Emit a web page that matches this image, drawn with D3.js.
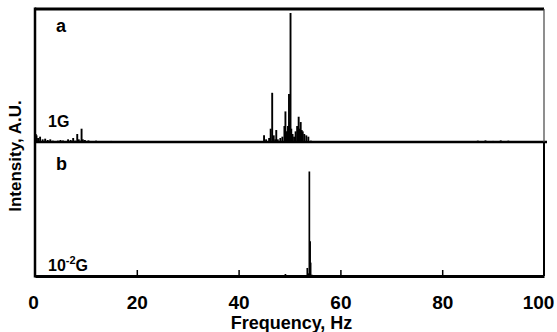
<!DOCTYPE html>
<meta charset="utf-8">
<script src="https://d3js.org/d3.v7.min.js"></script>
<style>
  body { margin: 0; background: #fff; }
  text { font-family: Arial, "Liberation Sans", sans-serif; font-weight: bold; fill: #000; }
</style>
<div id="my_dataviz"></div>
<script>

// spectrum of panel a (1G): frequency in Hz, intensity in A.U. (0..1)
var freqA = [0, 0.15, 0.3, 0.6, 1.0, 1.5, 2.0, 2.5, 3.0, 3.5, 4.5, 5.0, 5.5, 6.5, 7.0, 7.5, 7.9, 8.3, 8.6, 8.9, 9.15, 9.4, 9.8, 10.5, 12, 15, 20, 27, 35, 44.5,
             45.0, 45.4, 46.0, 46.3, 46.6, 46.9, 47.2, 47.4, 47.7, 48.2, 48.6, 49.0, 49.2, 49.5, 49.7, 49.9, 50.05, 50.2, 50.35, 50.6, 50.9, 51.2, 51.5, 51.8, 52.0, 52.2, 52.4, 52.6, 52.9, 53.3, 53.7, 54.2, 55,
             62, 75, 87, 88.5, 90, 91.5, 93, 95];
var valA  = [0.44, 0.06, 0.05, 0.03, 0.04, 0.02, 0.025, 0.015, 0.02, 0.01, 0.01, 0.015, 0.012, 0.02, 0.015, 0.03, 0.01, 0.06, 0.02, 0.01, 0.10, 0.02, 0.015, 0.012, 0.01, 0.008, 0.005, 0.005, 0.004, 0.004,
             0.05, 0.02, 0.03, 0.10, 0.37, 0.05, 0.02, 0.09, 0.02, 0.03, 0.04, 0.12, 0.23, 0.08, 0.12, 0.36, 0.15, 0.97, 0.10, 0.06, 0.04, 0.08, 0.12, 0.19, 0.10, 0.15, 0.09, 0.08, 0.06, 0.05, 0.04, 0.01, 0.005,
             0.004, 0.004, 0.01, 0.012, 0.008, 0.012, 0.01, 0.004];

// spectrum of panel b (10^-2 G)
var freqB = [8.5, 49.2, 53.5, 53.7, 53.9, 54.05, 54.15, 54.4];
var valB  = [0.004, 0.015, 0.06, 0.02, 0.78, 0.26, 0.1, 0.01];

var xTicks = [0, 20, 40, 60, 80, 100];
var panelLabels = ["a", "b"];

var margin = {top: 9, right: 13, bottom: 56, left: 35},
    width = 557 - margin.left - margin.right,
    height = 332 - margin.top - margin.bottom;

var svg = d3.select("#my_dataviz")
  .append("svg")
    .attr("width", 557)
    .attr("height", 332)
  .append("g")
    .attr("transform", "translate(" + margin.left + "," + margin.top + ")");

var x = d3.scaleLinear().domain([0, 100]).range([0, width]);

var mid = 133;   // divider between the two panels
var yA = d3.scaleLinear().domain([0, 1]).range([mid, 0]);
var yB = d3.scaleLinear().domain([0, 1]).range([height, mid]);

// stick spectra
svg.append("g")
  .selectAll("line")
  .data(d3.zip(freqA, valA))
  .enter()
  .append("line")
    .attr("x1", function(d) { return x(d[0]); })
    .attr("x2", function(d) { return x(d[0]); })
    .attr("y1", yA(0))
    .attr("y2", function(d) { return yA(d[1]); })
    .attr("stroke", "#000")
    .attr("stroke-width", 1.9);

svg.append("g")
  .selectAll("line")
  .data(d3.zip(freqB, valB))
  .enter()
  .append("line")
    .attr("x1", function(d) { return x(d[0]); })
    .attr("x2", function(d) { return x(d[0]); })
    .attr("y1", yB(0))
    .attr("y2", function(d) { return yB(d[1]); })
    .attr("stroke", "#000")
    .attr("stroke-width", 1.7);

// frame
svg.append("line").attr("x1", 0).attr("x2", width).attr("y1", 0).attr("y2", 0)
  .attr("stroke", "#000").attr("stroke-width", 3);
svg.append("line").attr("x1", 0).attr("x2", width + 3).attr("y1", mid).attr("y2", mid)
  .attr("stroke", "#000").attr("stroke-width", 2.5);
svg.append("line").attr("x1", 0).attr("x2", 0).attr("y1", -1.5).attr("y2", height + 1.5)
  .attr("stroke", "#000").attr("stroke-width", 2.5);
svg.append("line").attr("x1", width).attr("x2", width).attr("y1", 0).attr("y2", mid)
  .attr("stroke", "#444").attr("stroke-width", 1.2);
svg.append("line").attr("x1", width).attr("x2", width).attr("y1", mid).attr("y2", height)
  .attr("stroke", "#000").attr("stroke-width", 2);

// bottom axis with inward ticks
var xAxis = svg.append("g")
  .attr("transform", "translate(0," + height + ")")
  .call(d3.axisBottom(x).tickValues(xTicks).tickSizeInner(-6).tickSizeOuter(0).tickPadding(20));
xAxis.select(".domain").attr("stroke-width", 3);
xAxis.selectAll(".tick line").attr("stroke-width", 1.5)
  .attr("display", function(d) { return (d === 0 || d === 100) ? "none" : null; });
xAxis.selectAll(".tick text")
  .style("font-size", "19px")
  .style("font-family", "Arial, 'Liberation Sans', sans-serif")
  .style("font-weight", "bold")
  .attr("dx", function(d) { return d === 100 ? -6 : (d === 0 ? -2 : 0); });

// axis titles
svg.append("text")
  .attr("x", width / 2 + 2)
  .attr("y", height + 53)
  .attr("text-anchor", "middle")
  .style("font-size", "18px")
  .text("Frequency, Hz");

svg.append("text")
  .attr("transform", "translate(" + (-14) + "," + (mid + 14) + ") rotate(-90)")
  .attr("text-anchor", "middle")
  .style("font-size", "17px")
  .text("Intensity, A.U.");

// panel labels
svg.append("text").attr("x", 21).attr("y", 23).style("font-size", "18px").text(panelLabels[0]);
svg.append("text").attr("x", 21).attr("y", mid + 28).style("font-size", "18px").text(panelLabels[1]);

svg.append("text").attr("x", 13).attr("y", 118).style("font-size", "16px").text("1G");

var g2 = svg.append("text").attr("x", 13).attr("y", height - 5).style("font-size", "16px");
g2.append("tspan").text("10");
g2.append("tspan").attr("dy", -7).style("font-size", "11px").text("-2");
g2.append("tspan").attr("dy", 7).text("G");

</script>
